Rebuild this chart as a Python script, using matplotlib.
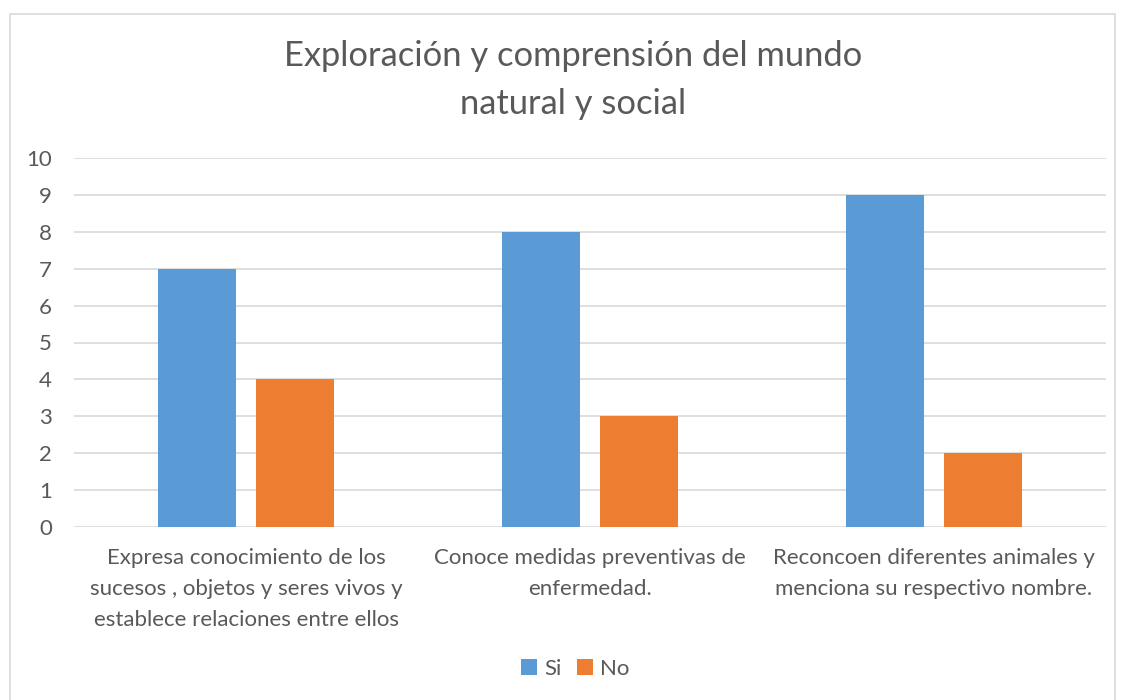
import matplotlib.pyplot as plt
from matplotlib.patches import Rectangle
import numpy as np

categories = ["Expresa conocimiento de los\nsucesos , objetos y seres vivos y\nestablece relaciones entre ellos",
              "Conoce medidas preventivas de\nenfermedad.",
              "Reconcoen diferentes animales y\nmenciona su respectivo nombre."]
si = [7, 8, 9]
no = [4, 3, 2]
yticks = list(range(0, 11))

plt.rcParams['font.family'] = ['Lato', 'DejaVu Sans']
gray = '#595959'

fig = plt.figure(figsize=(11.24, 7), dpi=100)
fig.patches.append(Rectangle((10 / 1124, -0.01), 1105 / 1124, (700 - 14) / 700 + 0.01,
                             transform=fig.transFigure, fill=False,
                             edgecolor='#D9D9D9', linewidth=1.2))
ax = fig.add_axes([74 / 1124, 173 / 700, 1032 / 1124, 369 / 700])

x = np.arange(len(categories))
w = 0.224
off = 0.1424
ax.bar(x - off, si, w, color='#5B9BD5', label='Si', zorder=3)
ax.bar(x + off, no, w, color='#ED7D31', label='No', zorder=3)

ax.set_xlim(-0.5, 2.5)
ax.set_ylim(0, 10)
ax.set_yticks(yticks)
ax.yaxis.grid(True, color='#D9D9D9', linewidth=1.2, zorder=0)
for s in ax.spines.values():
    s.set_visible(False)
ax.tick_params(axis='both', length=0, colors=gray, labelsize=16)
ax.tick_params(axis='y', pad=16)
ax.tick_params(axis='x', pad=15)
ax.set_xticks(x)
ax.set_xticklabels(categories, linespacing=1.68)

fig.text(573 / 1124, 1 - 80 / 700, "Exploración y comprensión del mundo\nnatural y social",
         ha='center', va='center', fontsize=24.8, color=gray, linespacing=1.6)

leg = fig.legend(loc='center', bbox_to_anchor=(575 / 1124, 1 - 669 / 700), ncol=2, frameon=False,
                 fontsize=16, handlelength=0.75, handleheight=0.75, handletextpad=0.3,
                 columnspacing=0.7)
for t in leg.get_texts():
    t.set_color(gray)

fig.savefig('out.png', dpi=100)
